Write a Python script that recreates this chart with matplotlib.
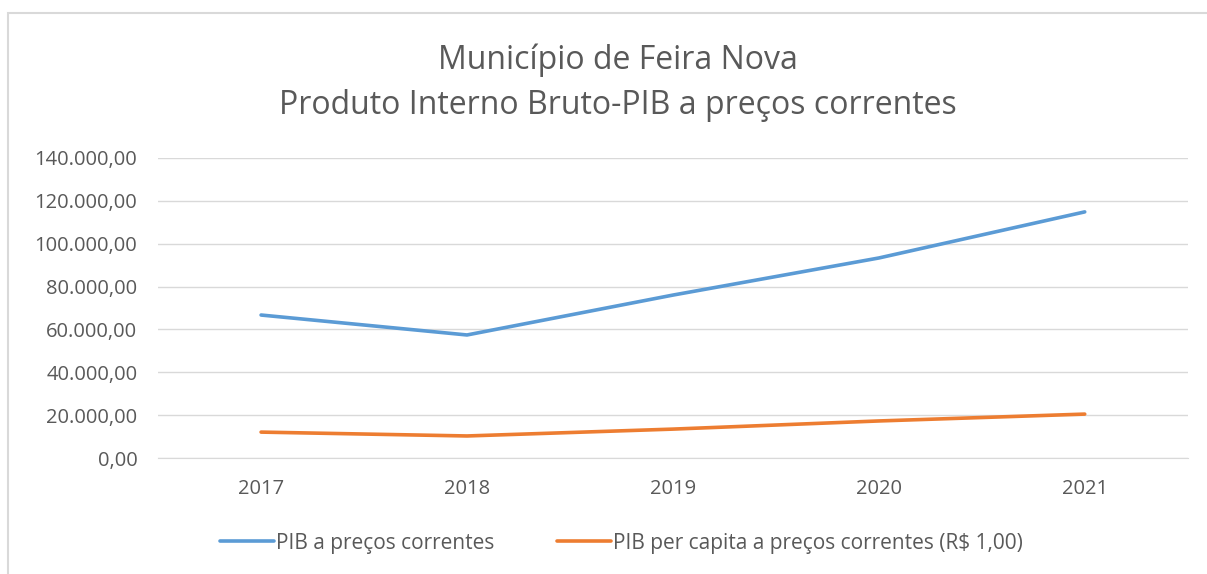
import matplotlib.pyplot as plt
from matplotlib.patches import Rectangle
from matplotlib.ticker import FuncFormatter

plt.rcParams['font.family'] = ['Open Sans', 'DejaVu Sans']

anos = ['2017', '2018', '2019', '2020', '2021']
pib = [66700, 57400, 76000, 93300, 114800]
pib_per_capita = [12100, 10300, 13500, 17300, 20500]

cinza = '#595959'

fig = plt.figure(figsize=(12.07, 5.74), dpi=100)
ax = fig.add_axes([0.131, 0.202, 0.853, 0.523])

x = range(len(anos))
ax.plot(x, pib, color='#5B9BD5', lw=2.6, solid_capstyle='round',
        label='PIB a preços correntes')
ax.plot(x, pib_per_capita, color='#ED7D31', lw=2.6, solid_capstyle='round',
        label='PIB per capita a preços correntes (R$ 1,00)')

ax.set_xlim(-0.5, len(anos) - 0.5)
ax.set_ylim(0, 140000)
ax.set_yticks(range(0, 140001, 20000))
ax.yaxis.set_major_formatter(FuncFormatter(
    lambda v, p: f'{v:,.2f}'.replace(',', 'X').replace('.', ',').replace('X', '.')))
ax.set_xticks(list(x))
ax.set_xticklabels(anos)
ax.grid(axis='y', color='#d9d9d9', lw=1)
ax.set_axisbelow(True)
for s in ['top', 'right', 'left']:
    ax.spines[s].set_visible(False)
ax.spines['bottom'].set_color('#d9d9d9')
ax.tick_params(length=0, labelsize=14.5, colors=cinza)
ax.tick_params(axis='x', pad=15)
ax.tick_params(axis='y', pad=15)

fig.text(0.512, 0.895, 'Município de Feira Nova', ha='center', va='center',
         fontsize=23, color=cinza)
fig.text(0.512, 0.817, 'Produto Interno Bruto-PIB a preços correntes',
         ha='center', va='center', fontsize=23, color=cinza)

leg = fig.legend(loc='center', bbox_to_anchor=(0.515, 0.054), ncol=2,
                 frameon=False, fontsize=15, handlelength=2.6,
                 handletextpad=0.1, columnspacing=3.0)
for t in leg.get_texts():
    t.set_color(cinza)

fig.patches.append(Rectangle((0.007, -0.1), 1.1, 1.077, transform=fig.transFigure,
                             fill=False, edgecolor='#d9d9d9', lw=1.5))

fig.savefig('out.png', dpi=100)
